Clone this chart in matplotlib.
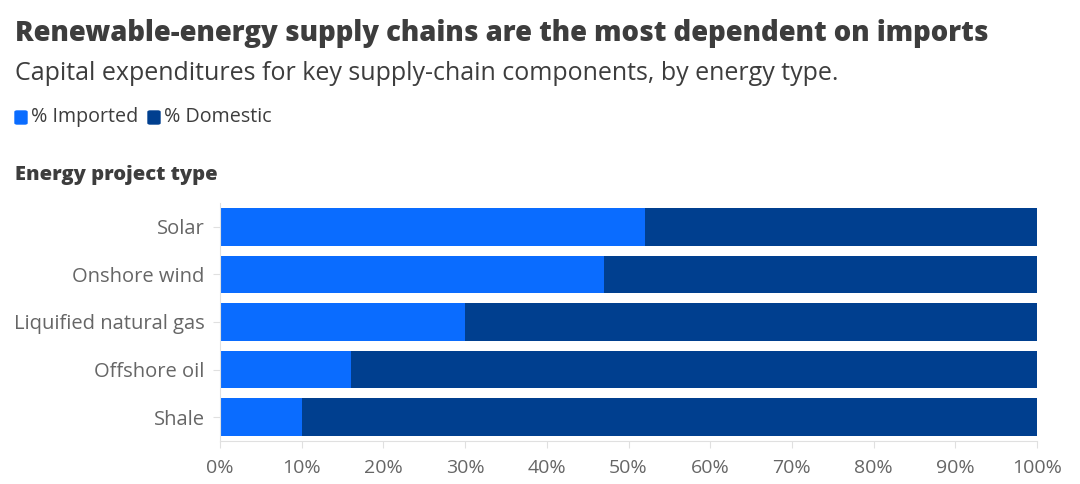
import matplotlib
matplotlib.use("Agg")
import matplotlib.pyplot as plt
from matplotlib.patches import FancyBboxPatch

plt.rcParams['font.family'] = ['Open Sans', 'DejaVu Sans']

categories = ["Solar", "Onshore wind", "Liquified natural gas", "Offshore oil", "Shale"]
imported = [52, 47, 30, 16, 10]
domestic = [100 - v for v in imported]
xticks = [0, 10, 20, 30, 40, 50, 60, 70, 80, 90, 100]

c_imp = "#0a6cff"
c_dom = "#003f8f"
txt = "#3d3d3d"
grey = "#666666"

fig = plt.figure(figsize=(10.8, 4.84), dpi=100)
ax = fig.add_axes([220 / 1080, 1 - 441 / 484, 817 / 1080, 238 / 484])

y = list(range(len(categories)))
ax.barh(y, imported, height=0.79, color=c_imp, edgecolor="none")
ax.barh(y, domestic, left=imported, height=0.79, color=c_dom, edgecolor="none")

ax.set_ylim(len(categories) - 0.5, -0.5)
ax.set_xlim(0, 100)
ax.set_yticks(y)
ax.set_yticklabels(categories, fontsize=14.5, color=grey)
ax.set_xticks(xticks)
ax.set_xticklabels([f"{v}%" for v in xticks], fontsize=14, color=grey)
ax.tick_params(axis="x", length=5, color="#e0e0e0", pad=8)
ax.tick_params(axis="y", length=5, color="#e0e0e0", pad=6)
for s in ["top", "right"]:
    ax.spines[s].set_visible(False)
ax.spines["left"].set_color("#e0e0e0")
ax.spines["bottom"].set_color("#e0e0e0")

fig.text(15 / 1080, 1 - 34 / 484, "Renewable-energy supply chains are the most dependent on imports",
         fontsize=19.8, fontweight="heavy", color=txt, va="center")
fig.text(15 / 1080, 1 - 73 / 484, "Capital expenditures for key supply-chain components, by energy type.",
         fontsize=18, color=txt, va="center")

# legend
for x0, col, lab in [(15, c_imp, "% Imported"), (148, c_dom, "% Domestic")]:
    fig.patches.append(FancyBboxPatch((x0 / 1080, 1 - 124 / 484), 12 / 1080, 13 / 484,
                                      boxstyle="round,pad=0,rounding_size=0.002",
                                      transform=fig.transFigure, color=col))
    fig.text((x0 + 16) / 1080, 1 - 117 / 484, lab, fontsize=14.2, color=txt, va="center")

fig.text(15 / 1080, 1 - 175 / 484, "Energy project type", fontsize=14.5,
         fontweight="heavy", color=txt, va="center")

fig.savefig("out.png", dpi=100, facecolor="white")
